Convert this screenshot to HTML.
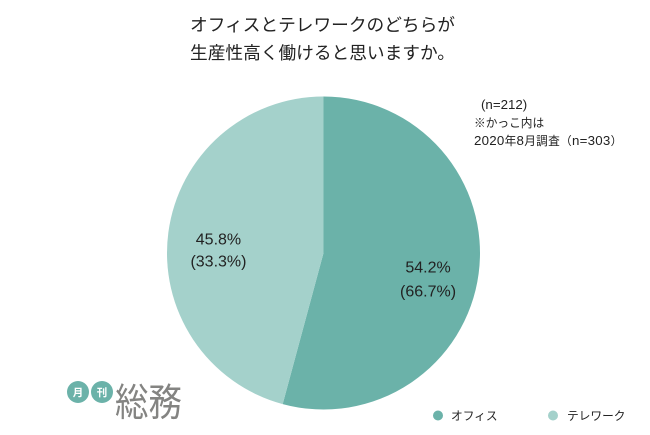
<!DOCTYPE html>
<html lang="ja">
<head>
<meta charset="utf-8">
<title>オフィスとテレワークのどちらが生産性高く働けると思いますか。</title>
<style>
html,body{margin:0;padding:0;background:#fff;}
body{width:650px;height:435px;overflow:hidden;}
svg{display:block;font-family:"Liberation Sans","Noto Sans CJK JP",sans-serif;}
</style>
</head>
<body>
<svg id="chart" width="650" height="435" viewBox="0 0 650 435" xmlns="http://www.w3.org/2000/svg">
  <rect width="650" height="435" fill="#fff"/>
  <g font-size="17.7" fill="#222">
    <text x="190" y="31">オフィスとテレワークのどちらが</text>
    <text x="190" y="59">生産性高く働けると思いますか。</text>
  </g>
  <g id="slices"></g>
  <g id="labels"></g>
  <g font-size="11.7" fill="#222">
    <text x="481" y="109" font-size="13.3">(n=212)</text>
    <text x="474" y="127">※かっこ内は</text>
    <text x="474" y="145" letter-spacing="0.25"><tspan font-size="13.3">2020</tspan>年<tspan font-size="13.3">8</tspan>月調査（<tspan font-size="13.3">n=303</tspan>）</text>
  </g>
  <g>
    <circle cx="78" cy="392" r="11" fill="#6bb2a9"/>
    <text x="78" y="396" font-size="10.5" font-weight="700" fill="#fff" text-anchor="middle">月</text>
    <circle cx="102" cy="392" r="11" fill="#6bb2a9"/>
    <text x="102" y="396" font-size="10.5" font-weight="700" fill="#fff" text-anchor="middle">刊</text>
    <text transform="translate(115 416) scale(1 1.16)" font-size="33.5" fill="#848482">総務</text>
  </g>
  <g id="legend"></g>
</svg>
<script>
var categories = ['オフィス', 'テレワーク'];
var shares = [54.2, 45.8];
var printedShares = ['54.2%', '45.8%'];
var printedPrevious = ['(66.7%)', '(33.3%)'];

var NS = 'http://www.w3.org/2000/svg';
var cx = 323.5, cy = 253, radius = 156.5;
var colors = ['#6bb2a9', '#a4d1cb'];
var legendDotX = [438, 553];
var legendTextGap = [13, 14];
var labelShiftX = [-4.5, 4];
var labelShiftY = [13, 14];
var labelGap = [24, 22];

function polar(angle, r) {
  return [cx + r * Math.sin(angle), cy - r * Math.cos(angle)];
}
function angleScale(value, total) {
  return value / total * Math.PI * 2;
}

var slicesGroup = document.getElementById('slices');
var labelsGroup = document.getElementById('labels');
var legendGroup = document.getElementById('legend');
var total = shares.reduce(function (a, b) { return a + b; }, 0);
var running = 0;

shares.forEach(function (value, i) {
  var start = angleScale(running, total);
  var end = angleScale(running + value, total);
  var p0 = polar(start, radius);
  var p1 = polar(end, radius);
  var large = end - start > Math.PI ? 1 : 0;

  var path = document.createElementNS(NS, 'path');
  path.setAttribute('d', 'M' + cx + ' ' + cy + 'L' + p0[0] + ' ' + p0[1] +
    'A' + radius + ' ' + radius + ' 0 ' + large + ' 1 ' + p1[0] + ' ' + p1[1] + 'Z');
  path.setAttribute('fill', colors[i]);
  
  
  slicesGroup.appendChild(path);

  var mid = (start + end) / 2;
  var pos = polar(mid, 110);
  var lx = pos[0] + labelShiftX[i];
  var ly = pos[1] + labelShiftY[i];

  var t1 = document.createElementNS(NS, 'text');
  t1.textContent = printedShares[i];
  t1.setAttribute('x', lx);
  t1.setAttribute('y', ly - 8);
  t1.setAttribute('font-size', '16');
  t1.setAttribute('fill', '#222');
  t1.setAttribute('text-anchor', 'middle');
  
  
  labelsGroup.appendChild(t1);

  var t2 = document.createElementNS(NS, 'text');
  t2.textContent = printedPrevious[i];
  t2.setAttribute('x', lx);
  t2.setAttribute('y', ly - 8 + labelGap[i]);
  t2.setAttribute('font-size', '16');
  t2.setAttribute('fill', '#222');
  t2.setAttribute('text-anchor', 'middle');
  
  
  labelsGroup.appendChild(t2);

  var dot = document.createElementNS(NS, 'circle');
  dot.setAttribute('cx', legendDotX[i]);
  dot.setAttribute('cy', 415.5);
  dot.setAttribute('r', 5);
  dot.setAttribute('fill', colors[i]);
  
  
  legendGroup.appendChild(dot);

  var lt = document.createElementNS(NS, 'text');
  lt.textContent = categories[i];
  lt.setAttribute('x', legendDotX[i] + legendTextGap[i]);
  lt.setAttribute('y', 420);
  lt.setAttribute('font-size', '11.7');
  lt.setAttribute('fill', '#222');
  
  
  legendGroup.appendChild(lt);

  running += value;
});
</script>
</body>
</html>
